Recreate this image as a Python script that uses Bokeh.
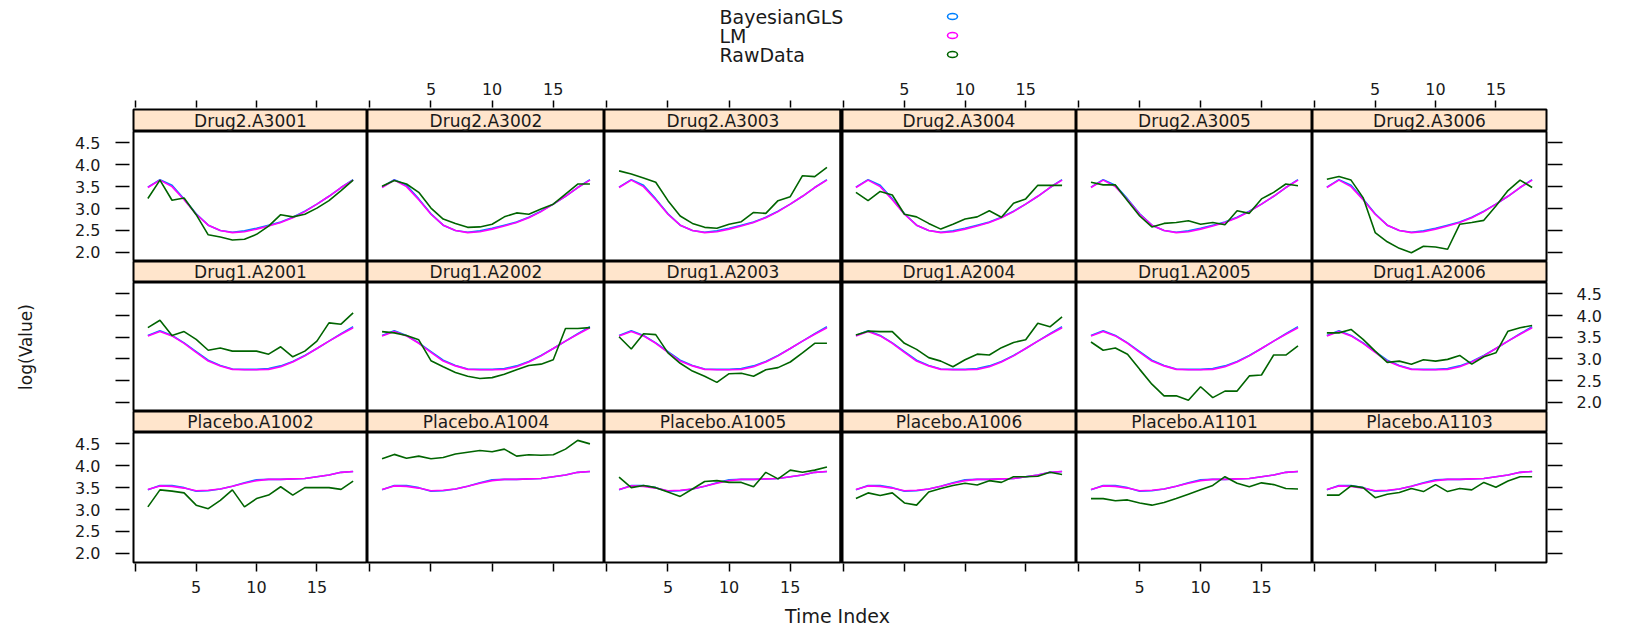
from bokeh.plotting import figure
from bokeh.models import Range1d, LinearAxis, FixedTicker, NumeralTickFormatter, Span, Label
from bokeh.layouts import column, row
from bokeh.embed import file_html
from bokeh.resources import INLINE

# ---------------------------------------------------------------- data
time_index = list(range(1, 19))

series_names = ["BayesianGLS", "LM", "RawData"]
series_colors = ["#0080ff", "#ff00ff", "#006400"]

# group-level fitted curves
lm_drug2 = [3.48, 3.65, 3.50, 3.20, 2.87, 2.62, 2.50, 2.45, 2.47, 2.53, 2.60, 2.68, 2.79, 2.93, 3.10, 3.28, 3.48, 3.65]
bayes_drug2 = [3.49, 3.66, 3.53, 3.22, 2.88, 2.62, 2.50, 2.46, 2.49, 2.55, 2.62, 2.69, 2.80, 2.94, 3.10, 3.28, 3.48, 3.66]
lm_drug1 = [3.53, 3.63, 3.53, 3.36, 3.15, 2.95, 2.84, 2.76, 2.75, 2.75, 2.76, 2.82, 2.93, 3.07, 3.24, 3.41, 3.57, 3.72]
bayes_drug1 = [3.54, 3.65, 3.54, 3.37, 3.17, 2.97, 2.85, 2.77, 2.76, 2.76, 2.78, 2.84, 2.94, 3.08, 3.24, 3.41, 3.58, 3.74]
lm_placebo = [3.46, 3.54, 3.53, 3.49, 3.43, 3.44, 3.47, 3.53, 3.60, 3.66, 3.69, 3.69, 3.70, 3.71, 3.75, 3.79, 3.85, 3.87]
bayes_placebo = [3.45, 3.55, 3.55, 3.50, 3.42, 3.43, 3.47, 3.53, 3.61, 3.68, 3.69, 3.69, 3.70, 3.71, 3.75, 3.79, 3.85, 3.87]

# observed log values per subject
raw_a3001 = [3.23, 3.65, 3.19, 3.24, 2.86, 2.40, 2.35, 2.28, 2.30, 2.41, 2.60, 2.86, 2.81, 2.87, 3.01, 3.18, 3.41, 3.65]
raw_a3002 = [3.51, 3.64, 3.56, 3.37, 3.01, 2.76, 2.66, 2.57, 2.58, 2.64, 2.81, 2.90, 2.87, 2.99, 3.10, 3.33, 3.56, 3.56]
raw_a3003 = [3.86, 3.79, 3.70, 3.60, 3.18, 2.83, 2.66, 2.57, 2.55, 2.64, 2.70, 2.91, 2.89, 3.18, 3.27, 3.75, 3.73, 3.94]
raw_a3004 = [3.37, 3.18, 3.39, 3.31, 2.87, 2.81, 2.66, 2.53, 2.64, 2.76, 2.81, 2.95, 2.80, 3.12, 3.22, 3.53, 3.53, 3.53]
raw_a3005 = [3.60, 3.54, 3.54, 3.18, 2.83, 2.58, 2.66, 2.68, 2.72, 2.64, 2.68, 2.63, 2.95, 2.89, 3.22, 3.37, 3.56, 3.52]
raw_a3006 = [3.67, 3.73, 3.65, 3.25, 2.45, 2.24, 2.09, 1.99, 2.14, 2.12, 2.07, 2.64, 2.68, 2.73, 3.06, 3.41, 3.65, 3.48]

raw_a2001 = [3.72, 3.89, 3.54, 3.63, 3.45, 3.20, 3.25, 3.18, 3.18, 3.18, 3.11, 3.28, 3.05, 3.18, 3.41, 3.83, 3.80, 4.06]
raw_a2002 = [3.63, 3.60, 3.54, 3.44, 2.96, 2.82, 2.69, 2.60, 2.55, 2.57, 2.65, 2.75, 2.85, 2.88, 2.98, 3.70, 3.70, 3.72]
raw_a2003 = [3.51, 3.23, 3.58, 3.56, 3.14, 2.90, 2.72, 2.60, 2.46, 2.66, 2.67, 2.60, 2.75, 2.80, 2.93, 3.14, 3.36, 3.36]
raw_a2004 = [3.55, 3.64, 3.63, 3.63, 3.36, 3.22, 3.03, 2.95, 2.82, 2.98, 3.11, 3.09, 3.26, 3.38, 3.44, 3.82, 3.74, 3.97]
raw_a2005 = [3.39, 3.20, 3.25, 3.11, 2.76, 2.42, 2.15, 2.15, 2.05, 2.36, 2.11, 2.26, 2.26, 2.61, 2.63, 3.09, 3.09, 3.30]
raw_a2006 = [3.60, 3.60, 3.68, 3.45, 3.18, 2.92, 2.95, 2.88, 2.98, 2.95, 2.99, 3.08, 2.88, 3.05, 3.14, 3.64, 3.72, 3.77]

raw_a1002 = [3.06, 3.45, 3.42, 3.38, 3.10, 3.02, 3.21, 3.45, 3.06, 3.25, 3.33, 3.52, 3.33, 3.50, 3.50, 3.50, 3.46, 3.65]
raw_a1004 = [4.16, 4.26, 4.17, 4.22, 4.16, 4.19, 4.27, 4.31, 4.35, 4.32, 4.38, 4.22, 4.25, 4.24, 4.25, 4.38, 4.58, 4.50]
raw_a1005 = [3.74, 3.50, 3.55, 3.50, 3.40, 3.30, 3.47, 3.64, 3.66, 3.62, 3.62, 3.52, 3.85, 3.70, 3.90, 3.85, 3.90, 3.97]
raw_a1006 = [3.25, 3.38, 3.32, 3.38, 3.15, 3.10, 3.40, 3.48, 3.55, 3.60, 3.56, 3.66, 3.62, 3.75, 3.75, 3.76, 3.85, 3.80]
raw_a1101 = [3.25, 3.25, 3.20, 3.22, 3.15, 3.10, 3.16, 3.25, 3.35, 3.45, 3.55, 3.75, 3.60, 3.52, 3.61, 3.57, 3.48, 3.47]
raw_a1103 = [3.33, 3.33, 3.54, 3.50, 3.27, 3.35, 3.39, 3.48, 3.41, 3.57, 3.41, 3.48, 3.45, 3.62, 3.51, 3.65, 3.75, 3.75]

# panel rows from top to bottom: (strip label, raw values)
panel_rows = [
    [("Drug2.A3001", raw_a3001), ("Drug2.A3002", raw_a3002), ("Drug2.A3003", raw_a3003),
     ("Drug2.A3004", raw_a3004), ("Drug2.A3005", raw_a3005), ("Drug2.A3006", raw_a3006)],
    [("Drug1.A2001", raw_a2001), ("Drug1.A2002", raw_a2002), ("Drug1.A2003", raw_a2003),
     ("Drug1.A2004", raw_a2004), ("Drug1.A2005", raw_a2005), ("Drug1.A2006", raw_a2006)],
    [("Placebo.A1002", raw_a1002), ("Placebo.A1004", raw_a1004), ("Placebo.A1005", raw_a1005),
     ("Placebo.A1006", raw_a1006), ("Placebo.A1101", raw_a1101), ("Placebo.A1103", raw_a1103)],
]
row_fits = [(bayes_drug2, lm_drug2), (bayes_drug1, lm_drug1), (bayes_placebo, lm_placebo)]

x_ticks = [0, 5, 10, 15]
y_ticks = [2.0, 2.5, 3.0, 3.5, 4.0, 4.5]

# ---------------------------------------------------------------- layout
FONT = "DejaVu Sans"
TEXT = "#1a1a1a"
STRIP_FILL = "#ffe5cc"
X_LO, X_HI = -0.19, 19.19
Y_LO, Y_HI = 1.79, 4.76

col_w = [234, 237, 237, 235, 236, 234]
LEFT, RIGHT = 133, 83
HEADER_H = 70
STRIP_TOP_PAD = 39
strip_h = [22, 21, 21]
panel_h = [130, 129, 130]
BOTTOM_PAD = 40
FOOTER_H = 629 - HEADER_H - STRIP_TOP_PAD - sum(strip_h) - sum(panel_h) - BOTTOM_PAD
WIDTH = LEFT + sum(col_w) + RIGHT


def make_fig(c, h, y_range, top=0, bottom=0):
    left = LEFT if c == 0 else 0
    right = RIGHT if c == 5 else 0
    p = figure(width=col_w[c] + left + right, height=h + top + bottom,
               x_range=Range1d(X_LO, X_HI), y_range=y_range,
               x_axis_type=None, y_axis_type=None,
               output_backend="svg", toolbar_location=None,
               min_border=0, min_border_left=left, min_border_right=right,
               min_border_top=top, min_border_bottom=bottom)
    p.outline_line_color = "black"
    p.outline_line_width = 2
    p.border_fill_color = "white"
    p.background_fill_color = "white"
    # heavier rule between the third and fourth panel columns
    if c == 2:
        p.add_layout(Span(location=X_HI, dimension="height", line_color="black", line_width=4))
    if c == 3:
        p.add_layout(Span(location=X_LO, dimension="height", line_color="black", line_width=4))
    return p


def style_axis(ax, tick_in, tick_out, standoff):
    ax.axis_line_color = None
    ax.minor_tick_line_color = None
    ax.major_tick_line_color = "black"
    ax.major_tick_line_width = 1.5
    ax.major_tick_in = tick_in
    ax.major_tick_out = tick_out
    ax.major_label_standoff = standoff
    ax.major_label_text_font = FONT
    ax.major_label_text_font_size = "16px"
    ax.major_label_text_color = TEXT
    return ax


def x_axis(labelled, tick_in, tick_out, standoff):
    ax = LinearAxis(ticker=FixedTicker(ticks=x_ticks))
    if labelled:
        ax.major_label_overrides = {0: ""}
    else:
        ax.major_label_overrides = {t: "" for t in x_ticks}
    return style_axis(ax, tick_in, tick_out, standoff)


def y_axis(labelled, tick_in, tick_out, standoff):
    ax = LinearAxis(ticker=FixedTicker(ticks=y_ticks), formatter=NumeralTickFormatter(format="0.0"))
    if not labelled:
        ax.major_label_overrides = {t: "" for t in y_ticks}
    return style_axis(ax, tick_in, tick_out, standoff)


# header with the key
header = figure(width=WIDTH, height=HEADER_H, x_range=Range1d(0, WIDTH), y_range=Range1d(HEADER_H, 0),
                x_axis_type=None, y_axis_type=None, output_backend="svg", toolbar_location=None,
                min_border=0, outline_line_color=None)
for i, (name, color) in enumerate(zip(series_names, series_colors)):
    ky = 16 + 19 * i
    header.add_layout(Label(x=719, y=ky, text=name, text_align="left", text_baseline="middle",
                            text_font=FONT, text_font_size="19px", text_color=TEXT))
    header.ellipse(x=[952], y=[ky], width=10, height=6, fill_color=None,
                   line_color=color, line_width=1.6)

rows = [header]
for r in range(3):
    strips = []
    panels = []
    bayes, lm = row_fits[r]
    for c in range(6):
        name, raw = panel_rows[r][c]

        # strip
        top = STRIP_TOP_PAD if r == 0 else 0
        s = make_fig(c, strip_h[r], Range1d(0, 1), top=top)
        s.background_fill_color = STRIP_FILL
        s.add_layout(Label(x=(X_LO + X_HI) / 2, y=0.5, text=name, text_align="center",
                           text_baseline="middle", text_font=FONT, text_font_size="17px",
                           text_color=TEXT))
        if r == 0:
            s.add_layout(x_axis(c % 2 == 1, -2, 9, 6), "above")
        strips.append(s)

        # panel
        bottom = BOTTOM_PAD if r == 2 else 0
        p = make_fig(c, panel_h[r], Range1d(Y_LO, Y_HI), bottom=bottom)
        p.line(time_index, bayes, line_color=series_colors[0], line_width=1.6)
        p.line(time_index, lm, line_color=series_colors[1], line_width=1.6)
        p.line(time_index, raw, line_color=series_colors[2], line_width=1.6)
        if r == 2:
            p.add_layout(x_axis(c % 2 == 0, -1, 9, 9), "below")
        if c == 0:
            ax = y_axis(r != 1, -4, 18, 15)
            if r == 1:
                ax.axis_label = "log(Value)"
                ax.axis_label_text_font = FONT
                ax.axis_label_text_font_size = "17px"
                ax.axis_label_text_font_style = "normal"
                ax.axis_label_text_color = TEXT
                ax.axis_label_standoff = 80
            p.add_layout(ax, "left")
        if c == 5:
            p.add_layout(y_axis(r == 1, -1, 16, 14), "right")
        panels.append(p)
    rows.append(row(strips, spacing=0))
    rows.append(row(panels, spacing=0))

footer = figure(width=WIDTH, height=FOOTER_H, x_range=Range1d(0, WIDTH), y_range=Range1d(FOOTER_H, 0),
                x_axis_type=None, y_axis_type=None, output_backend="svg", toolbar_location=None,
                min_border=0, outline_line_color=None)
footer.add_layout(Label(x=837, y=FOOTER_H / 2, text="Time Index", text_align="center",
                        text_baseline="middle", text_font=FONT, text_font_size="19px",
                        text_color=TEXT))
rows.append(footer)

layout = column(rows, spacing=0)
open("out.html", "w").write(file_html(layout, INLINE))
